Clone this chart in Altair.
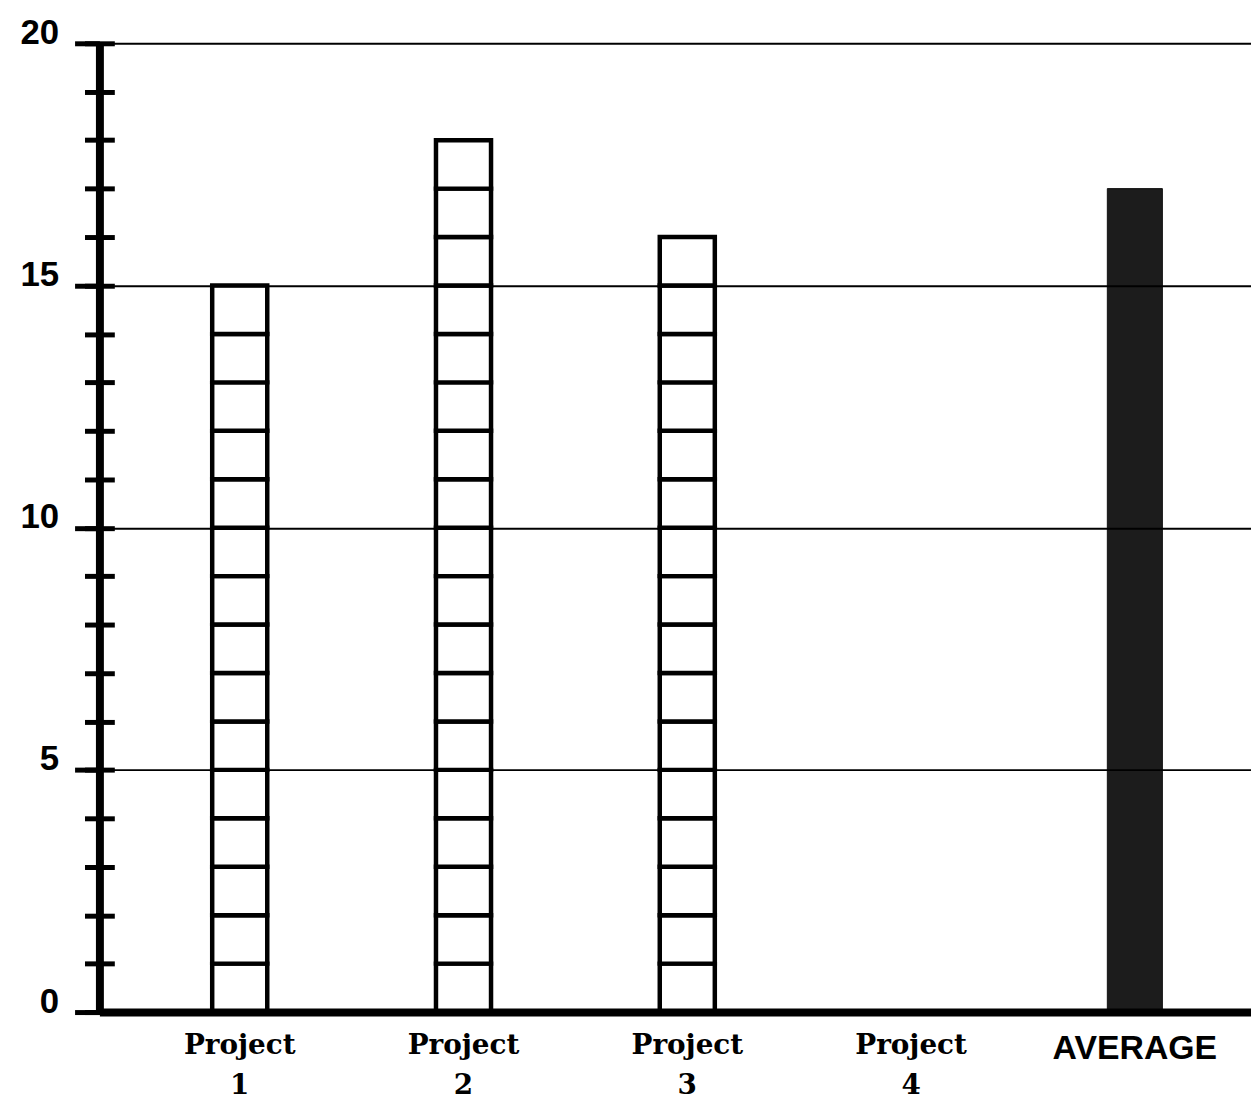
import altair as alt
import pandas as pd

categories = ["Project 1", "Project 2", "Project 3", "Project 4", "AVERAGE"]
values = [15, 18, 16, 0, 17]
y_label_values = [0, 5, 10, 15, 20]
y_tick_values = list(range(0, 21))

# ladder cells (one cell per unit) for the projects
rows = []
for cat, v in zip(categories[:4], values[:4]):
    for k in range(v):
        rows.append({"category": cat, "lo": k, "hi": k + 1})
ladder = pd.DataFrame(rows, columns=["category", "lo", "hi"])
avg = pd.DataFrame({"category": [categories[4]], "lo": [0], "hi": [values[4]]})

x_enc = alt.X(
    "category:N",
    sort=categories,
    scale=alt.Scale(domain=categories, paddingInner=0.754, paddingOuter=0.45, align=0.56),
    axis=alt.Axis(
        title=None,
        ticks=False,
        tickSize=0,
        domain=True,
        domainColor="black",
        domainWidth=8,
        labelAngle=0,
        labelExpr="split(datum.label, ' ')",
        labelFont={"condition": {"test": "datum.value === 'AVERAGE'", "value": "Liberation Sans"},
                   "value": "DejaVu Serif"},
        labelFontSize={"condition": {"test": "datum.value === 'AVERAGE'", "value": 34},
                       "value": 28},
        labelFontWeight="bold",
        labelColor="black",
        labelPadding=20,
        labelLineHeight=40,
        labelBaseline="top",
        zindex=1,
    ),
)

yscale = alt.Scale(domain=[0, 20], nice=False, zero=True)

axis_main = alt.Axis(
    title=None, orient="left", values=y_label_values,
    grid=True, gridColor="black", gridWidth=2, gridOpacity=1,
    domain=True, domainColor="black", domainWidth=8,
    ticks=True, tickColor="black", tickSize=25, tickWidth=5,
    labelFont="Liberation Sans", labelFontSize=35, labelFontWeight="bold",
    labelColor="black", labelPadding=16, labelBaseline="alphabetic",
    zindex=1,
)
axis_minor = alt.Axis(
    title=None, orient="left", values=y_tick_values,
    grid=False, domain=False, labels=False,
    ticks=True, tickColor="black", tickSize=30, tickWidth=5, offset=-15,
    zindex=1,
)

ladder_layer = alt.Chart(ladder).mark_bar(fill="white", stroke="black", strokeWidth=4.5).encode(
    x=x_enc,
    y=alt.Y("lo:Q", scale=yscale, axis=axis_main),
    y2="hi",
)
avg_layer = alt.Chart(avg).mark_bar(fill="#1c1c1c", stroke="#111111", strokeWidth=1).encode(
    x=x_enc,
    y=alt.Y("lo:Q", scale=yscale, axis=axis_minor),
    y2="hi",
)

chart = (
    alt.layer(ladder_layer, avg_layer)
    .resolve_axis(y="independent")
    .properties(
        width=1159,
        height=975,
        padding={"left": 92, "top": 32, "right": 0, "bottom": 88},
        autosize=alt.AutoSizeParams(type="none"),
        background="white",
    )
    .configure_view(stroke=None)
)

chart.save("out.html", embed_options={"renderer": "svg", "actions": False})
